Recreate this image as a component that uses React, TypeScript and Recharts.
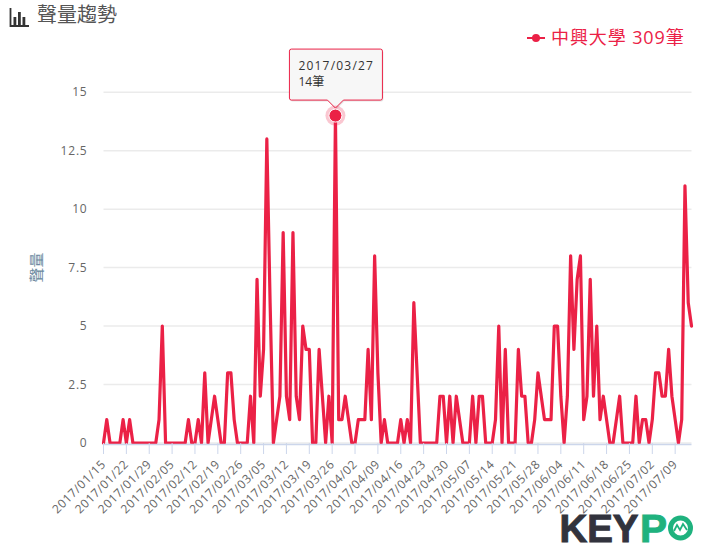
import React from 'react';
import { LineChart, Line, XAxis, YAxis, CartesianGrid } from 'recharts';

// one value per day from 2017/01/15 on, seven days to a row
const mentions = [
  0, 1, 0, 0, 0, 0, 1,
  0, 1, 0, 0, 0, 0, 0,
  0, 0, 0, 1, 5, 0, 0,
  0, 0, 0, 0, 0, 1, 0,
  0, 1, 0, 3, 0, 1, 2,
  1, 0, 0, 3, 3, 1, 0,
  0, 0, 0, 2, 0, 7, 2,
  4, 13, 6, 0, 1, 2, 9,
  2, 1, 9, 2, 1, 5, 4,
  4, 0, 0, 4, 2, 0, 2,
  0, 14, 1, 1, 2, 1, 0,
  0, 1, 1, 1, 4, 1, 8,
  3, 0, 1, 0, 0, 0, 0,
  1, 0, 1, 0, 6, 3, 0,
  0, 0, 0, 0, 0, 2, 2,
  0, 2, 0, 2, 1, 0, 0,
  0, 2, 0, 2, 2, 0, 0,
  0, 1, 5, 0, 4, 0, 0,
  0, 4, 2, 2, 0, 0, 1,
  3, 2, 1, 1, 1, 5, 5,
  2, 0, 2, 8, 4, 7, 8,
  1, 2, 7, 2, 5, 1, 2,
  1, 0, 0, 1, 2, 0, 0,
  0, 0, 2, 0, 1, 1, 0,
  1, 3, 3, 2, 2, 4, 2,
  1, 0, 1, 11, 6, 5,
];

const weekLabels = [
  '2017/01/15', '2017/01/22', '2017/01/29', '2017/02/05', '2017/02/12', '2017/02/19',
  '2017/02/26', '2017/03/05', '2017/03/12', '2017/03/19', '2017/03/26', '2017/04/02',
  '2017/04/09', '2017/04/16', '2017/04/23', '2017/04/30', '2017/05/07', '2017/05/14',
  '2017/05/21', '2017/05/28', '2017/06/04', '2017/06/11', '2017/06/18', '2017/06/25',
  '2017/07/02', '2017/07/09',
];

const yTicks = [0, 2.5, 5, 7.5, 10, 12.5, 15];
const seriesName = '中興大學';
const highlightIndex = 71;
const red = '#eb2146';

const pad = (n: number) => String(n).padStart(2, '0');
const days = mentions.map((_, i) => {
  const d = new Date(Date.UTC(2017, 0, 15 + i));
  return `${d.getUTCFullYear()}/${pad(d.getUTCMonth() + 1)}/${pad(d.getUTCDate())}`;
});
const chartData = mentions.map((count, i) => ({ date: days[i], count }));
const total = mentions.reduce((a, b) => a + b, 0);

const font = '"Open Sans", "Noto Sans CJK TC", sans-serif';

const DateTick = ({ x, y, payload }: any) => (
  <text
    x={x + 3}
    y={y + 9}
    textAnchor="end"
    fill="#666666"
    fontSize={12}
    fontFamily={font}
    letterSpacing={0.6}
    transform={`rotate(-45 ${x + 3} ${y + 9})`}
  >
    {payload.value}
  </text>
);

// the pinned tooltip of the peak day, hung on the library's own dot position
const PeakDot = ({ cx, cy, index, payload }: any) => {
  if (index !== highlightIndex) return <g key={index} />;
  const left = cx - 46;
  const right = cx + 47;
  const top = cy - 66.5;
  const bottom = cy - 15.5;
  const box = `M${left + 2} ${top} H${right - 2} Q${right} ${top} ${right} ${top + 2} V${bottom - 2} Q${right} ${bottom} ${right - 2} ${bottom} H${cx + 8} L${cx} ${bottom + 8} L${cx - 8} ${bottom} H${left + 2} Q${left} ${bottom} ${left} ${bottom - 2} V${top + 2} Q${left} ${top} ${left + 2} ${top} Z`;
  return (
    <g key={index}>
      <path d={box} fill="#000" opacity={0.1} transform="translate(1 1.5)" />
      <path d={box} fill="#f7f7f7" stroke={red} strokeWidth={1} />
      <text x={left + 9} y={top + 21} fontSize={12} fill="#333333" fontFamily={font} letterSpacing={1.2}>
        {payload.date}
      </text>
      <text x={left + 9} y={top + 37} fontSize={12} fill="#333333" fontFamily={font}>
        {payload.count}筆
      </text>
      <circle cx={cx} cy={cy} r={10} fill={red} opacity={0.25} />
      <circle cx={cx} cy={cy} r={6.5} fill={red} stroke="#ffffff" strokeWidth={1} />
    </g>
  );
};

const Logo = () => (
  <svg width={146} height={44} style={{ position: 'absolute', left: 556, top: 504 }}>
    <text
      x={3.5}
      y={37.5}
      fontSize={39}
      fontWeight={700}
      fontFamily="Liberation Sans"
      fill="#32333d"
      stroke="#32333d"
      strokeWidth={1}
      textLength={79}
      lengthAdjust="spacingAndGlyphs"
    >
      KEY
    </text>
    <text
      x={84}
      y={37.5}
      fontSize={39}
      fontWeight={700}
      fontFamily="Liberation Sans"
      fill="#1fb27e"
      stroke="#1fb27e"
      strokeWidth={1}
      textLength={27}
      lengthAdjust="spacingAndGlyphs"
    >
      P
    </text>
    <circle cx={124.5} cy={24} r={10} fill="none" stroke="#1fb27e" strokeWidth={5} />
    <path d="M118 27 L121 21 L124 26 L127 20 L131 26" fill="none" stroke="#1fb27e" strokeWidth={1.8} />
  </svg>
);

export default function App() {
  return (
    <div style={{ position: 'absolute', left: 0, top: 0, width: 702, height: 548, background: '#fff', overflow: 'hidden' }}>
      <LineChart
        width={702}
        height={548}
        data={chartData}
        margin={{ top: 92.2, right: 10.5, bottom: 0, left: 0 }}
      >
        <CartesianGrid vertical={false} stroke="#ebebeb" strokeWidth={1.5} />
        <XAxis
          dataKey="date"
          ticks={weekLabels}
          interval={0}
          height={105}
          tick={<DateTick />}
          tickSize={11}
          tickLine={{ stroke: '#ccd6eb' }}
          axisLine={{ stroke: '#ccd6eb', strokeWidth: 1.5, transform: 'translate(0 1.5)' }}
        />
        <YAxis
          width={103.5}
          domain={[0, 15]}
          ticks={yTicks}
          tickSize={0}
          tickMargin={16}
          axisLine={false}
          tick={{ fill: '#666666', fontSize: 12, fontFamily: font, letterSpacing: 0.8 }}
          label={{
            value: '聲量',
            angle: -90,
            position: 'insideLeft',
            offset: 37,
            style: { fill: '#6b8aa0', fontSize: 15, fontFamily: font, textAnchor: 'middle' },
          }}
        />
        <Line
          type="linear"
          dataKey="count"
          stroke={red}
          strokeWidth={3.2}
          strokeLinejoin="round"
          strokeLinecap="round"
          dot={(props: any) => <PeakDot {...props} />}
          activeDot={false}
          isAnimationActive={false}
        />
      </LineChart>

      <svg width={20} height={20} style={{ position: 'absolute', left: 9, top: 8 }}>
        <path d="M1.5 0 V18 H20" fill="none" stroke="#333" strokeWidth={1.8} />
        <rect x={4.5} y={9} width={2.8} height={8} fill="#333" />
        <rect x={9} y={4} width={2.8} height={13} fill="#333" />
        <rect x={13.5} y={9} width={2.8} height={8} fill="#333" />
      </svg>
      <div style={{ position: 'absolute', left: 37, top: 1, fontSize: 20, lineHeight: '28px', color: '#555555', fontFamily: font }}>
        聲量趨勢
      </div>

      <svg width={20} height={10} style={{ position: 'absolute', left: 527, top: 33 }}>
        <line x1={0} y1={5} x2={18} y2={5} stroke={red} strokeWidth={2} />
        <circle cx={9} cy={5} r={4} fill={red} />
      </svg>
      <div style={{ position: 'absolute', left: 551, top: 24, fontSize: 18, lineHeight: '26px', letterSpacing: 0.9, color: red, fontFamily: font, whiteSpace: 'nowrap' }}>
        {`${seriesName} ${total}筆`}
      </div>

      <Logo />
    </div>
  );
}
